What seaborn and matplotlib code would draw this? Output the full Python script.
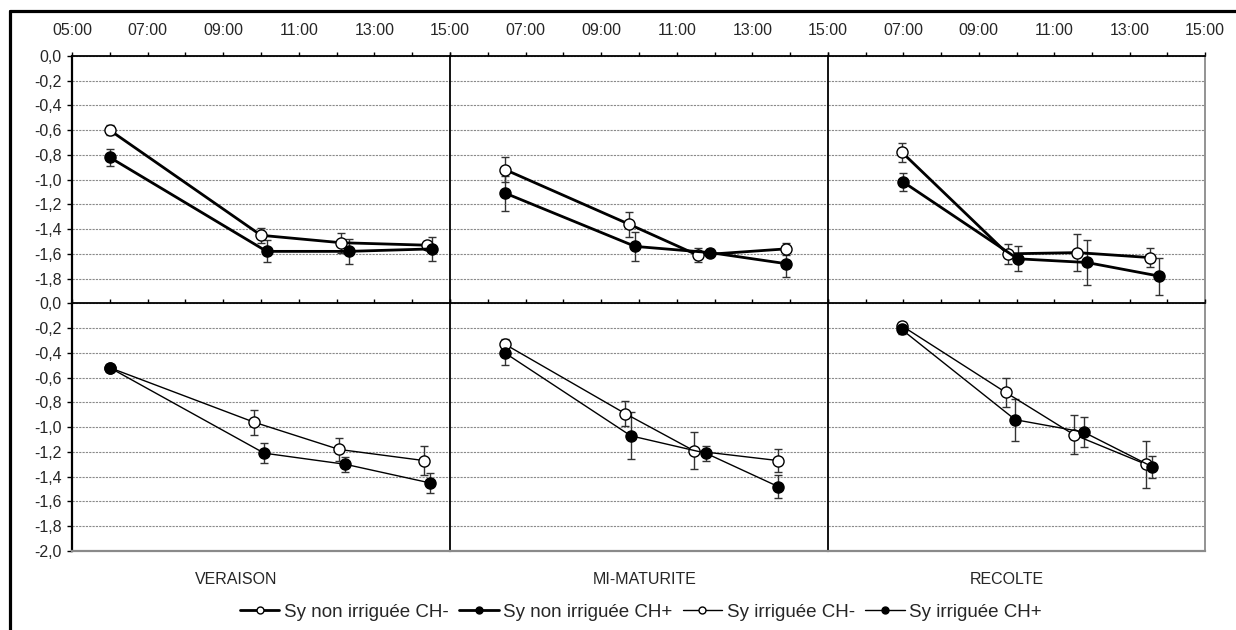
import matplotlib
matplotlib.use('Agg')
import matplotlib.pyplot as plt
from matplotlib.lines import Line2D
import numpy as np
import pandas as pd
import seaborn as sns

# stades et series
stages = ['VERAISON', 'MI-MATURITE', 'RECOLTE']
series = ['Sy non irriguée CH-', 'Sy non irriguée CH+', 'Sy irriguée CH-', 'Sy irriguée CH+']

# heures de mesure (une liste par stade)
heure_nonirr_chm = [['06:00', '10:00', '12:07', '14:23'], ['06:28', '09:44', '11:33', '13:53'], ['06:58', '09:46', '11:37', '13:32']]
heure_nonirr_chp = [['06:00', '10:09', '12:19', '14:32'], ['06:28', '09:54', '11:53', '13:54'], ['07:00', '10:02', '11:52', '13:47']]
heure_irr_chm = [['06:00', '09:49', '12:04', '14:19'], ['06:27', '09:38', '11:27', '13:41'], ['06:57', '09:43', '11:31', '13:26']]
heure_irr_chp = [['06:00', '10:05', '12:14', '14:28'], ['06:27', '09:47', '11:46', '13:41'], ['06:57', '09:58', '11:47', '13:36']]

# potentiel hydrique (MPa)
psi_nonirr_chm = [[-0.60, -1.45, -1.51, -1.53], [-0.92, -1.36, -1.61, -1.56], [-0.78, -1.60, -1.59, -1.63]]
psi_nonirr_chp = [[-0.82, -1.58, -1.58, -1.56], [-1.11, -1.54, -1.59, -1.68], [-1.02, -1.64, -1.67, -1.78]]
psi_irr_chm = [[-0.52, -0.96, -1.18, -1.27], [-0.33, -0.89, -1.19, -1.27], [-0.18, -0.72, -1.06, -1.30]]
psi_irr_chp = [[-0.52, -1.21, -1.30, -1.45], [-0.40, -1.07, -1.21, -1.48], [-0.21, -0.94, -1.04, -1.32]]

# ecarts-types
et_nonirr_chm = [[0.04, 0.06, 0.08, 0.03], [0.10, 0.10, 0.06, 0.05], [0.08, 0.08, 0.15, 0.08]]
et_nonirr_chp = [[0.07, 0.09, 0.10, 0.10], [0.14, 0.12, 0.03, 0.11], [0.07, 0.10, 0.18, 0.15]]
et_irr_chm = [[0.02, 0.10, 0.09, 0.12], [0.04, 0.10, 0.15, 0.09], [0.03, 0.12, 0.16, 0.19]]
et_irr_chp = [[0.02, 0.08, 0.06, 0.08], [0.10, 0.19, 0.06, 0.09], [0.04, 0.17, 0.12, 0.09]]


def to_hours(s):
    h, m = s.split(':')
    return int(h) + int(m) / 60


rows = []
for name, heures, psis, ets in zip(series,
                                   [heure_nonirr_chm, heure_nonirr_chp, heure_irr_chm, heure_irr_chp],
                                   [psi_nonirr_chm, psi_nonirr_chp, psi_irr_chm, psi_irr_chp],
                                   [et_nonirr_chm, et_nonirr_chp, et_irr_chm, et_irr_chp]):
    for s, stage in enumerate(stages):
        for h, p, e in zip(heures[s], psis[s], ets[s]):
            rows.append({'stage': stage, 'series': name, 'hour': to_hours(h), 'psi': p, 'et': e})
df = pd.DataFrame(rows)

sns.set_style('white')
plt.rcParams['font.family'] = ['Liberation Sans', 'DejaVu Sans']

W, H = 1236, 630
fig = plt.figure(figsize=(W / 100, H / 100), dpi=100)

col_x = [72, 450, 828]
col_w = [378, 378, 377]
row_y = [(56, 303.3), (303.3, 551)]
fs = 11.5


def fmt(v):
    return '0,0' if abs(v) < 1e-9 else f'{v:.1f}'.replace('.', ',')


styles = {
    'Sy non irriguée CH-': dict(mfc='white', lw=2.0, row=0),
    'Sy non irriguée CH+': dict(mfc='black', lw=2.0, row=0),
    'Sy irriguée CH-': dict(mfc='white', lw=1.0, row=1),
    'Sy irriguée CH+': dict(mfc='black', lw=1.0, row=1),
}

for r in range(2):
    for c in range(3):
        y0, y1 = row_y[r]
        ax = fig.add_axes([col_x[c] / W, 1 - y1 / H, col_w[c] / W, (y1 - y0) / H])
        ax.set_xlim(5, 15)
        ax.set_ylim(-2, 0)
        ax.set_facecolor('none')

        for name in series:
            st = styles[name]
            if st['row'] != r:
                continue
            d = df[(df['stage'] == stages[c]) & (df['series'] == name)]
            ax.errorbar(d['hour'], d['psi'], yerr=d['et'], fmt='none', ecolor='#333333',
                        elinewidth=1.0, capsize=3.0, capthick=1.0, zorder=3)
            sns.lineplot(data=d, x='hour', y='psi', ax=ax, color='black', lw=st['lw'],
                         marker='o', markersize=8, markerfacecolor=st['mfc'],
                         markeredgecolor='black', markeredgewidth=1.0,
                         estimator=None, sort=False, legend=False, zorder=4)
        ax.set_xlabel('')
        ax.set_ylabel('')

        # axe horizontal en haut
        ax.xaxis.tick_top()
        hours = np.arange(5, 16, 2)
        ax.set_xticks(hours)
        ax.set_xticks(np.arange(6, 15, 2), minor=True)
        if r == 0:
            labels = [f'{h:02d}:00' for h in hours]
            if c > 0:
                labels[0] = ''
            ax.set_xticklabels(labels, fontsize=fs)
        else:
            ax.set_xticklabels([])
        ax.tick_params(axis='x', which='both', top=True, bottom=False, direction='out',
                       length=3, width=1, color='black', pad=10)

        # axe vertical
        yt = np.round(np.arange(0, -1.81 if r == 0 else -2.01, -0.2), 1)
        ax.set_yticks(yt)
        if c == 0:
            ax.set_yticklabels([fmt(v) for v in yt], fontsize=fs)
            ax.tick_params(axis='y', left=True, length=3.5, width=1, color='black', pad=4)
        else:
            ax.set_yticklabels([])
            ax.tick_params(axis='y', left=False, length=0)

        ax.yaxis.grid(True, color='#8a8a8a', lw=0.8, ls=(0, (2, 1)))
        ax.xaxis.grid(False)
        ax.set_axisbelow(True)

        ax.spines['top'].set_color('black')
        ax.spines['top'].set_linewidth(1.3)
        ax.spines['left'].set_color('black')
        ax.spines['left'].set_linewidth(1.6 if c == 0 else 1.3)
        ax.spines['right'].set_visible(c == 2)
        ax.spines['right'].set_color('#8a8a8a')
        ax.spines['right'].set_linewidth(1.3)
        ax.spines['bottom'].set_visible(r == 1)
        ax.spines['bottom'].set_color('#8a8a8a')
        ax.spines['bottom'].set_linewidth(1.6)

# noms des stades
for stage, x in zip(stages, [236, 644.5, 1007]):
    fig.text(x / W, 1 - 579 / H, stage, ha='center', va='center', fontsize=fs)

# legende
handles = [Line2D([], [], color='black', lw=styles[n]['lw'], marker='o', markersize=5,
                  markerfacecolor=styles[n]['mfc'], markeredgecolor='black', markeredgewidth=1.0)
           for n in series]
fig.legend(handles, series, loc='center', bbox_to_anchor=(641 / W, 1 - 612 / H), ncol=4,
           frameon=False, fontsize=13.5, handlelength=2.1, handletextpad=0.25,
           columnspacing=0.55, borderpad=0)

# cadre exterieur
fig.add_artist(Line2D([9.7 / W, 9.7 / W], [0, 1 - 11 / H], color='black', lw=2.3))
fig.add_artist(Line2D([9.7 / W, 1], [1 - 11 / H, 1 - 11 / H], color='black', lw=2.3))

fig.savefig('out.png', dpi=100)
